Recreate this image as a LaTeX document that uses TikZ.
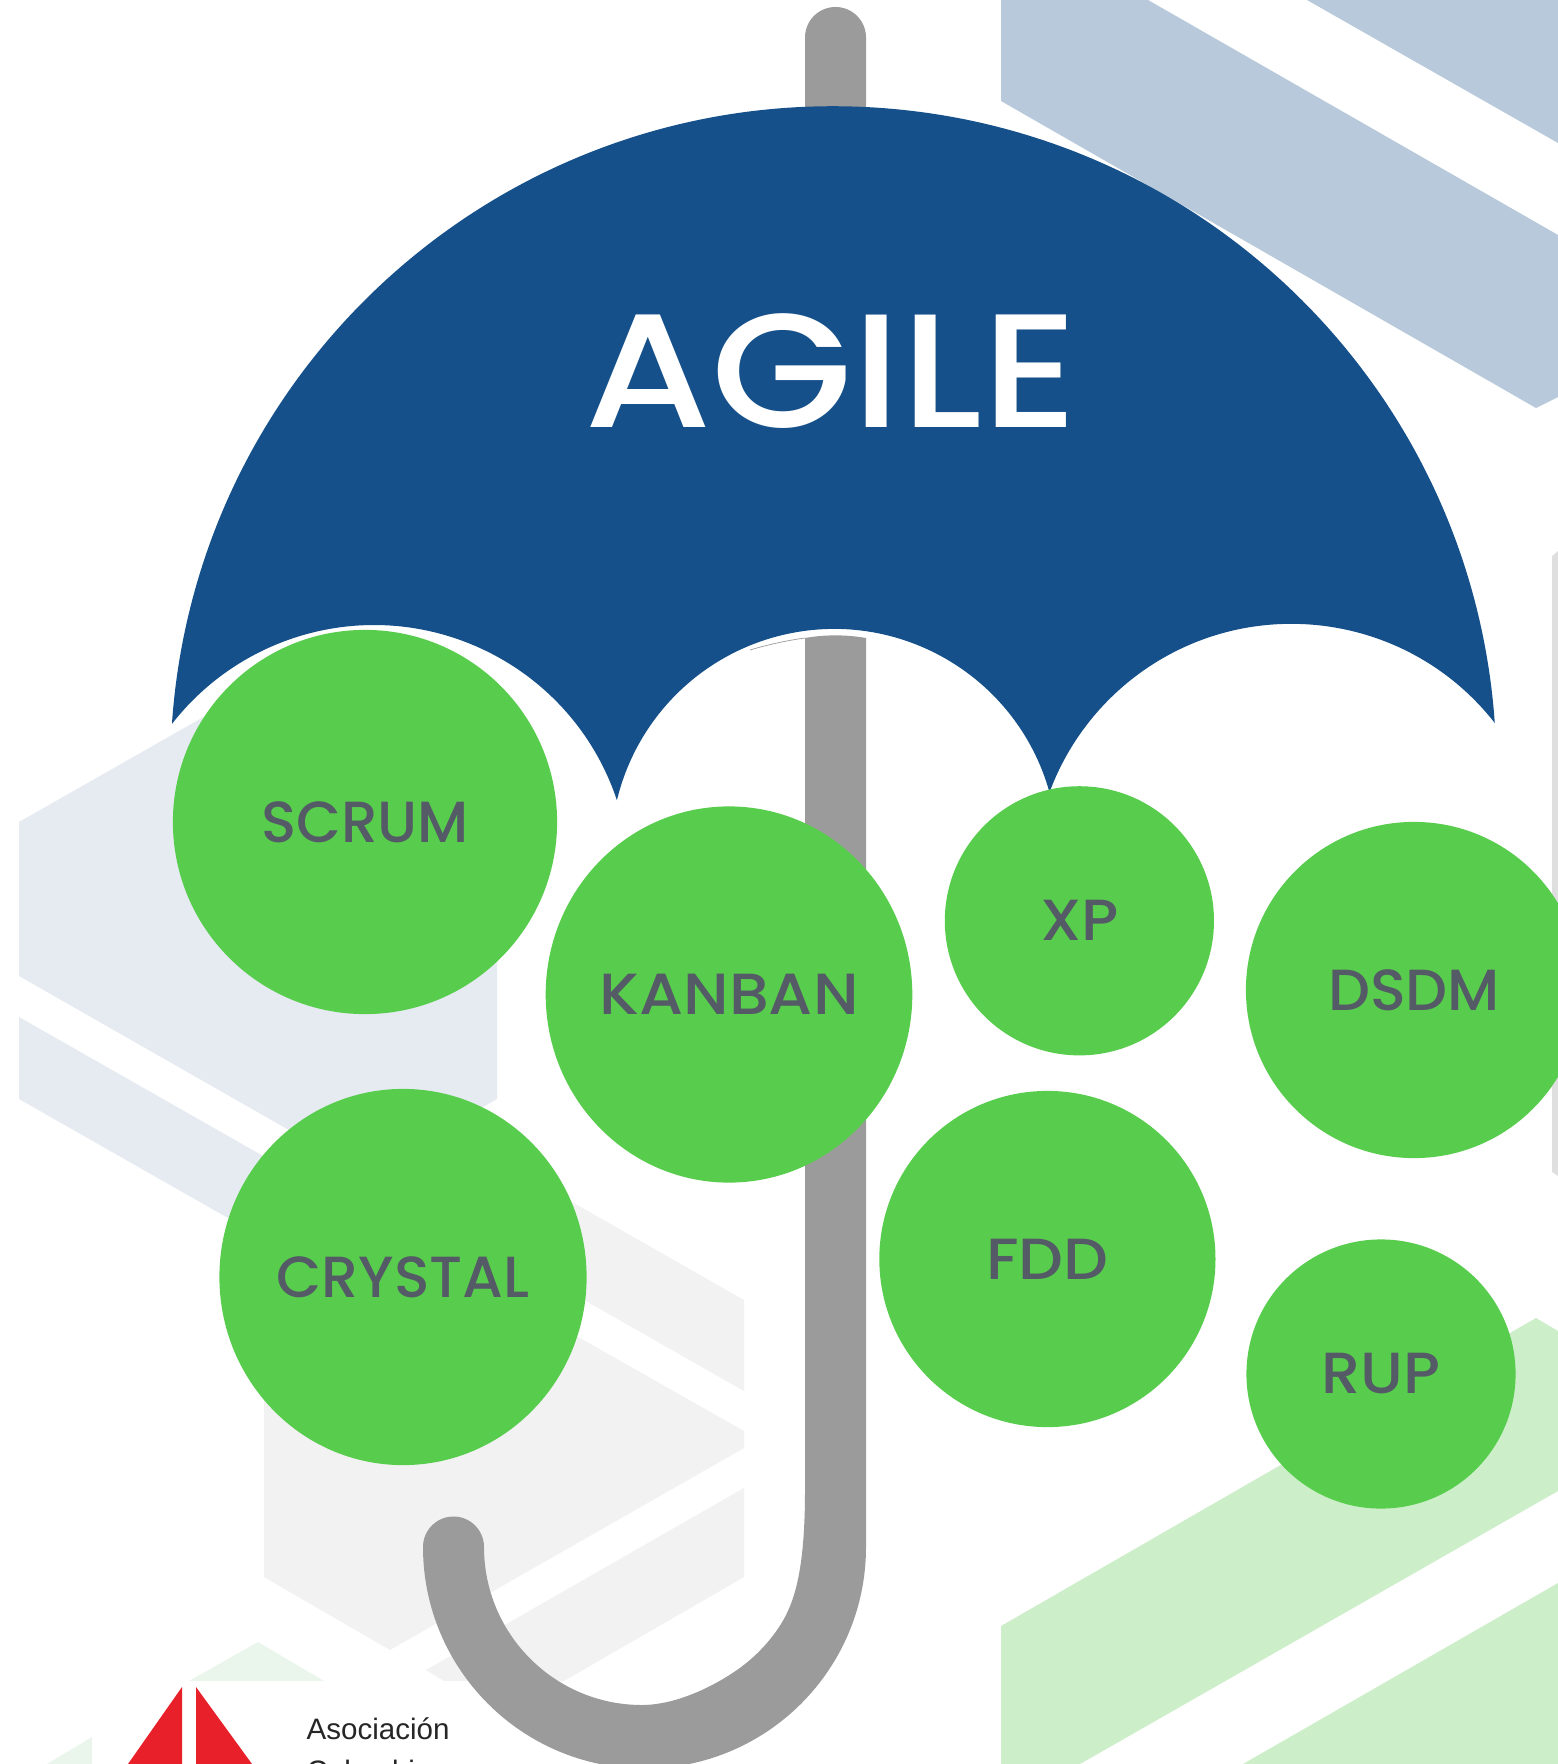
\documentclass[tikz,border=0pt]{standalone}
\usepackage{fontspec}
\setmainfont{Liberation Sans}
\newfontfamily\umfont{Poppins Medium}
\newfontfamily\umwide[FakeStretch=1.13]{Poppins Medium}
\usetikzlibrary{shapes.geometric}
\definecolor{dach}{HTML}{15508A}
\definecolor{griff}{HTML}{9B9B9B}
\definecolor{ball}{HTML}{58CD4D}
\definecolor{schrift}{HTML}{555B66}
\definecolor{hexblau}{HTML}{B7C9DA}
\definecolor{hexhell}{HTML}{E6EBF2}
\definecolor{hexgrau}{HTML}{F2F2F2}
\definecolor{hexgruen}{HTML}{CCEFC9}
\definecolor{hexpale}{HTML}{EAF6EC}
\definecolor{rand}{HTML}{DFDFDF}
\definecolor{logorot}{HTML}{E8202A}
\begin{document}
\begin{tikzpicture}[x=0.01cm,y=0.01cm,
	ball/.style={ellipse,fill=ball,inner sep=0pt,text=schrift,font=\umfont\fontsize{16.5}{20}\selectfont},
	logotext/.style={anchor=base west,inner sep=0pt,text=black!85,font=\fontsize{8.4}{10}\selectfont}]
\useasboundingbox (0,0) rectangle (1558,-1764);
\clip (0,0) rectangle (1558,-1764);
\fill[white] (0,0) rectangle (1558,-1764);
\fill[hexblau] (1001,0) -- (1148,0) -- (1558,-235) -- (1558,-397) -- (1536,-408) -- (1001,-101) -- cycle;
\fill[hexblau] (1307,0) -- (1558,-143) -- (1558,0) -- cycle;
\fill[rand] (1552,-556) -- (1558,-551) -- (1558,-1176) -- (1552,-1172) -- cycle;
\fill[hexhell] (19,-822) -- (258,-686) -- (497,-822) -- (497,-1099) -- (366,-1174) -- (19,-976) -- cycle;
\fill[hexhell] (19,-1017) -- (300,-1177) -- (300,-1259) -- (19,-1099) -- cycle;
\fill[hexgrau] (744,-1300) -- (744,-1391) -- (500,-1252) -- (500,-1161) -- cycle;
\fill[hexgrau] (400,-1236) -- (744,-1431) -- (744,-1448) -- (390,-1650) -- (264,-1577) -- (264,-1300) -- cycle;
\fill[hexgrau] (744,-1488) -- (744,-1577) -- (564,-1681) -- (444,-1681) -- (426,-1670) -- cycle;
\fill[hexpale] (189,-1681) -- (258,-1642) -- (324,-1681) -- cycle;
\fill[hexpale] (47,-1764) -- (92,-1737) -- (92,-1764) -- cycle;
\fill[hexgruen] (1001,-1626) -- (1536,-1318) -- (1558,-1331) -- (1558,-1491) -- (1080,-1764) -- (1001,-1764) -- cycle;
\fill[hexgruen] (1558,-1583) -- (1558,-1764) -- (1243,-1764) -- cycle;
\fill[griff] (805,-200) -- (805,-37.5) arc[start angle=180,end angle=0,radius=30.5] -- (866,-200) -- cycle;
\fill[griff] (805,-638) .. controls (825,-634.5) and (846,-634.5) .. (866,-638) -- (866,-1547)
	arc[start angle=0,end angle=-180,radius=221.5]
	arc[start angle=180,end angle=0,radius=30.5]
	arc[start angle=180,end angle=270,radius=158]
	.. controls (670,-1705) and (705,-1692) .. (737,-1670)
	.. controls (760,-1654) and (778,-1632) .. (787,-1613)
	.. controls (797,-1592) and (805,-1560) .. (805,-1490) -- cycle;
\draw[griff,line width=0.2pt] (750,-650) .. controls (770,-644) and (790,-640) .. (805,-638);
\fill[dach] (172,-723) arc[start angle=176,end angle=4,radius=663]
	arc[start angle=38,end angle=159.7,radius=258]
	arc[start angle=15.6,end angle=166.5,radius=223.5]
	arc[start angle=18.4,end angle=142.1,radius=256] -- cycle;
\node[text=white,font=\umwide\fontsize{46}{50}\selectfont] (agile) at (831,-371) {AGILE};
\foreach \name/\x/\y/\w/\h/\sx/\txt in {scrum/365/822/3.84/3.84/1/SCRUM,kanban/729/994.5/3.66/3.76/1.09/KANBAN,
	xp/1079.4/920.8/2.69/2.69/1.08/XP,dsdm/1414/990/3.36/3.36/1.02/DSDM,fdd/1047.4/1259/3.36/3.36/1.09/FDD,
	rup/1381/1374/2.69/2.69/1.07/RUP,crystal/403/1277/3.67/3.76/1.01/CRYSTAL}{
	\node[ball,minimum width=\w cm,minimum height=\h cm] (\name) at (\x,-\y) {\raisebox{-0.4pt}{\scalebox{\sx}[1]{\txt}}};
}
\fill[logorot] (182,-1687) -- (182,-1764) -- (128,-1764) -- cycle;
\fill[logorot] (196,-1687) -- (196,-1764) -- (252,-1764) -- cycle;
\node[logotext] (asoc) at (306,-1739) {Asociación};
\node[logotext] (colo) at (306,-1781) {Colombiana};
\end{tikzpicture}
\end{document}
